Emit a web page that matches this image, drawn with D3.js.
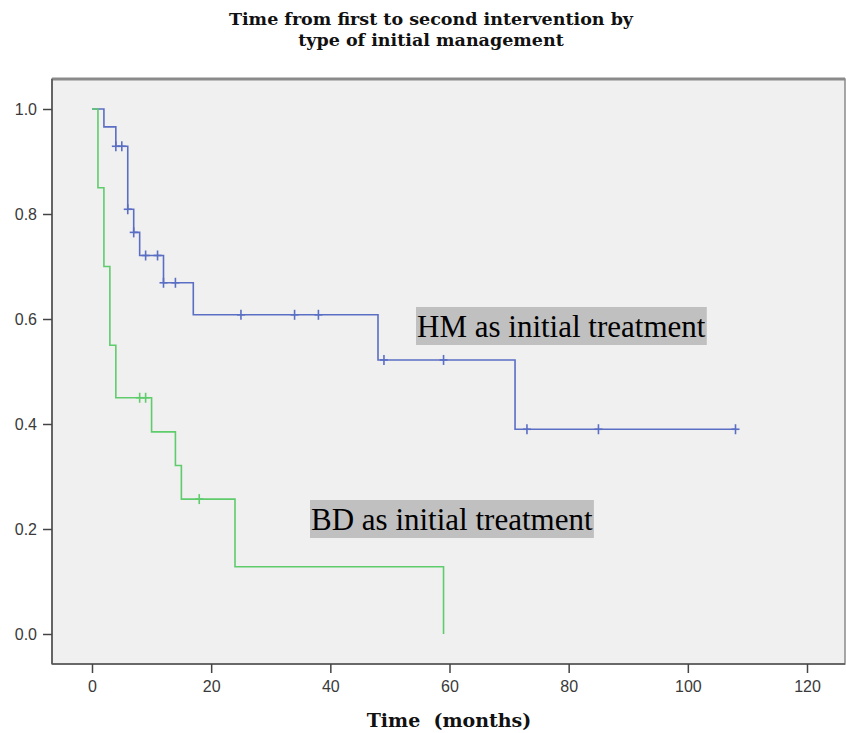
<!DOCTYPE html>
<html>
<head>
<meta charset="utf-8">
<script src="https://cdn.jsdelivr.net/npm/d3@7"></script>
<style>
  body { margin: 0; background: #fff; }
  svg { display: block; }
</style>
</head>
<body>
<svg id="chart" width="846" height="733"></svg>
<script>
// Kaplan-Meier steps: [time, survival after the drop]
var hmSteps = [[0, 1.0], [2, 0.966], [4, 0.929], [6, 0.809], [7, 0.765], [8, 0.721],
               [12, 0.669], [17, 0.608], [48, 0.522], [71, 0.390]];
var hmEnd = 108;
var hmCensored = [[4, 0.929], [5, 0.929], [6, 0.809], [7, 0.765], [9, 0.721], [11, 0.721],
                  [12, 0.669], [14, 0.669], [25, 0.608], [34, 0.608], [38, 0.608],
                  [49, 0.522], [59, 0.522], [73, 0.390], [85, 0.390], [108, 0.390]];

var bdSteps = [[0, 1.0], [1, 0.85], [2, 0.70], [3, 0.55], [4, 0.45], [10, 0.385],
               [14, 0.321], [15, 0.257], [24, 0.128], [59, 0.0]];
var bdEnd = 59;
var bdCensored = [[8, 0.45], [9, 0.45], [18, 0.257]];

var xTicks = [0, 20, 40, 60, 80, 100, 120];
var yTicks = [0, 0.2, 0.4, 0.6, 0.8, 1.0];

var titleLines = ["Time from first to second intervention by", "type of initial management"];
var xTitle = "Time\u00a0 (months)";
var hmLabel = "HM as initial treatment";
var bdLabel = "BD as initial treatment";

var svg = d3.select("#chart");

var x = d3.scaleLinear().domain([0, 120]).range([92, 807]);
var y = d3.scaleLinear().domain([0, 1]).range([634, 109]);

// plot frame
var frame = {left: 52, top: 79, right: 845, bottom: 664};
svg.append("rect")
  .attr("x", frame.left).attr("y", frame.top)
  .attr("width", frame.right - frame.left).attr("height", frame.bottom - frame.top)
  .attr("fill", "#f0f0f0")
  .attr("stroke", "#8a8a8a").attr("stroke-width", 1.5);
svg.append("line")
  .attr("x1", frame.left).attr("x2", frame.right)
  .attr("y1", frame.top).attr("y2", frame.top)
  .attr("stroke", "#8a8a8a").attr("stroke-width", 3);
svg.append("line")
  .attr("x1", frame.left).attr("x2", frame.left)
  .attr("y1", frame.top).attr("y2", frame.bottom)
  .attr("stroke", "#555").attr("stroke-width", 1.6);
svg.append("line")
  .attr("x1", frame.left).attr("x2", frame.right)
  .attr("y1", frame.bottom).attr("y2", frame.bottom)
  .attr("stroke", "#555").attr("stroke-width", 1.6);

// axes
var xAxis = d3.axisBottom(x).tickValues(xTicks).tickSize(9).tickPadding(8).tickFormat(d3.format("d"));
var gx = svg.append("g").attr("transform", "translate(0," + frame.bottom + ")").call(xAxis);
gx.select(".domain").remove();

var yAxis = d3.axisLeft(y).tickValues(yTicks).tickSize(9).tickPadding(6).tickFormat(d3.format(".1f"));
var gy = svg.append("g").attr("transform", "translate(" + frame.left + ",0)").call(yAxis);
gy.select(".domain").remove();

svg.selectAll(".tick line").attr("stroke", "#444").attr("stroke-width", 1.5);
svg.selectAll(".tick text")
  .attr("fill", "#3a3a3a")
  .style("font-family", "'Liberation Sans', Arial, sans-serif")
  .style("font-size", "16px");

// survival curves
function stepPoints(steps, end){
  var pts = [];
  for(var i = 0; i < steps.length; i++){
    if(i > 0) pts.push([steps[i][0], steps[i-1][1]]);
    pts.push(steps[i]);
  }
  var last = steps[steps.length - 1];
  if(end > last[0]) pts.push([end, last[1]]);
  return pts;
}

var line = d3.line().x(function(d){return x(d[0]);}).y(function(d){return y(d[1]);});

function drawCurve(steps, end, censored, color){
  var g = svg.append("g");
  g.append("path")
    .attr("d", line(stepPoints(steps, end)))
    .attr("fill", "none")
    .attr("stroke", color)
    .attr("stroke-width", 1.6);
  g.selectAll(".cens-v").data(censored).enter().append("line")
    .attr("x1", function(d){return x(d[0]);})
    .attr("x2", function(d){return x(d[0]);})
    .attr("y1", function(d){return y(d[1]) - 5;})
    .attr("y2", function(d){return y(d[1]) + 5;})
    .attr("stroke", color).attr("stroke-width", 1.6);
  g.selectAll(".cens-h").data(censored).enter().append("line")
    .attr("x1", function(d){return x(d[0]) - 4;})
    .attr("x2", function(d){return x(d[0]) + 4;})
    .attr("y1", function(d){return y(d[1]);})
    .attr("y2", function(d){return y(d[1]);})
    .attr("stroke", color).attr("stroke-width", 1.6);
}

drawCurve(hmSteps, hmEnd, hmCensored, "#5a6ec4");
drawCurve(bdSteps, bdEnd, bdCensored, "#5fcc6c");

// group labels with grey boxes
function boxLabel(txt, px, py){
  var g = svg.append("g");
  var rect = g.append("rect").attr("fill", "#c0c0c0");
  var t = g.append("text")
    .attr("x", px).attr("y", py)
    .style("font-family", "'Liberation Serif', 'Times New Roman', serif")
    .style("font-size", "31px")
    .attr("fill", "#000")
    .text(txt);
  var bb = t.node().getBBox();
  rect.attr("x", bb.x - 1).attr("y", bb.y - 2)
    .attr("width", bb.width + 2).attr("height", bb.height + 3);
}
boxLabel(hmLabel, 417, 337);
boxLabel(bdLabel, 311, 530);

// titles
svg.selectAll(".title").data(titleLines).enter().append("text")
  .attr("class", "title")
  .attr("x", 431)
  .attr("y", function(d, i){return 25 + i * 21;})
  .attr("text-anchor", "middle")
  .style("font-family", "'DejaVu Serif', serif")
  .style("font-weight", "bold")
  .style("font-size", "17.5px")
  .attr("fill", "#111")
  .text(function(d){return d;});

svg.append("text")
  .attr("x", 449).attr("y", 727)
  .attr("text-anchor", "middle")
  .style("font-family", "'DejaVu Serif', serif")
  .style("font-weight", "bold")
  .style("font-size", "19px")
  .attr("fill", "#111")
  .text(xTitle);
</script>
</body>
</html>
